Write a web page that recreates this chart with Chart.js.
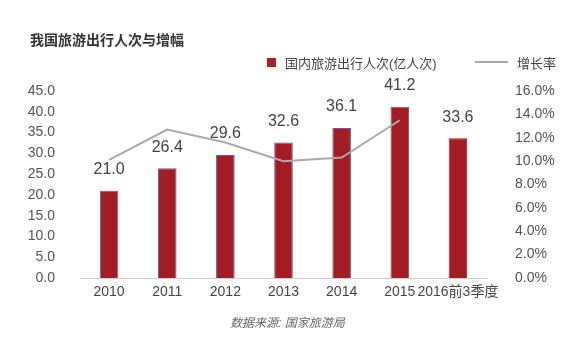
<!DOCTYPE html>
<html>
<head>
<meta charset="utf-8">
<script src="https://cdn.jsdelivr.net/npm/chart.js@4/dist/chart.umd.min.js"></script>
<style>
  body { margin: 0; background: #fff; }
  #wrap { position: relative; width: 574px; height: 341px; font-family: "Liberation Sans", "Noto Sans CJK SC", sans-serif; }
  #c { position: absolute; left: 0; top: 0; }
  .t { position: absolute; white-space: nowrap; }
  #title { left: 30px; top: 29px; font-size: 14px; font-weight: bold; color: #333; font-family: "Noto Sans CJK SC", sans-serif; }
  #lg1 { left: 285px; top: 53px; font-size: 13px; color: #444; }
  #sq { position: absolute; left: 267px; top: 58px; width: 9px; height: 9px; background: #b01e26; }
  #ln { position: absolute; left: 475px; top: 61px; width: 33px; height: 2px; background: #aaa; }
  #lg2 { left: 517px; top: 53px; font-size: 13px; color: #444; }
  #src { left: 230px; top: 313px; font-size: 12px; font-style: italic; color: #666; }
</style>
</head>
<body>
<div id="wrap">
  <canvas id="c" width="574" height="341"></canvas>
  <div class="t" id="title">我国旅游出行人次与增幅</div>
  <div id="sq"></div>
  <div class="t" id="lg1">国内旅游出行人次(亿人次)</div>
  <div id="ln"></div>
  <div class="t" id="lg2">增长率</div>
  <div class="t" id="src">数据来源: 国家旅游局</div>
</div>
<script>
const years = ['2010', '2011', '2012', '2013', '2014', '2015', '2016前3季度'];
const trips = [21.0, 26.4, 29.6, 32.6, 36.1, 41.2, 33.6];
const growth = [10.1, 12.7, 11.6, 10.0, 10.3, 13.5, null];

// 柱子上方的数值
const barLabels = {
  id: 'barLabels',
  afterDatasetsDraw(chart) {
    const ctx = chart.ctx;
    const meta = chart.getDatasetMeta(0);
    ctx.save();
    ctx.font = '16px "Liberation Sans", sans-serif';
    ctx.fillStyle = '#444';
    ctx.textAlign = 'center';
    ctx.textBaseline = 'middle';
    meta.data.forEach((bar, i) => {
      ctx.fillText(trips[i].toFixed(1), bar.x, bar.y - 21);
    });
    ctx.restore();
  }
};

new Chart(document.getElementById('c'), {
  data: {
    labels: years,
    datasets: [{
      type: 'bar',
      label: '国内旅游出行人次(亿人次)',
      data: trips,
      backgroundColor: '#a31c22',
      borderColor: ['#6a5aa8', '#6a5aa8', '#6a5aa8', '#6a5aa8', '#6a5aa8', '#6a5aa8', '#a31c22'],
      borderWidth: 1,
      barPercentage: 0.64,
      categoryPercentage: 0.5,
      yAxisID: 'y',
      order: 1
    }, {
      type: 'line',
      label: '增长率',
      data: growth,
      borderColor: '#aaa',
      borderWidth: 2,
      pointRadius: 0,
      tension: 0,
      fill: false,
      yAxisID: 'y1',
      order: 0
    }]
  },
  options: {
    responsive: false,
    animation: false,
    layout: { padding: { top: 91, left: 0, right: 0, bottom: 0 } },
    plugins: { legend: { display: false }, tooltip: { enabled: false } },
    scales: {
      x: {
        grid: { display: false },
        border: { display: true, color: '#d0d0d0' },
        ticks: {
          autoSkip: false, maxRotation: 0, padding: -2,
          color: '#444', font: { size: 14, family: '"Liberation Sans", "Noto Sans CJK SC", sans-serif' }
        },
        afterFit(s) { s.height = 63; }
      },
      y: {
        position: 'left', min: 0, max: 45,
        grid: { display: false },
        border: { display: false },
        ticks: {
          stepSize: 5, padding: 17, color: '#555',
          font: { size: 14, family: '"Liberation Sans", sans-serif' },
          callback: v => v.toFixed(1)
        },
        afterFit(s) { s.width = 80; }
      },
      y1: {
        position: 'right', min: 0, max: 16,
        grid: { display: false },
        border: { display: false },
        ticks: {
          stepSize: 2, padding: 20, color: '#555',
          font: { size: 14, family: '"Liberation Sans", sans-serif' },
          callback: v => v.toFixed(1) + '%'
        },
        afterFit(s) { s.width = 87; }
      }
    }
  },
  plugins: [barLabels]
});
</script>
</body>
</html>
